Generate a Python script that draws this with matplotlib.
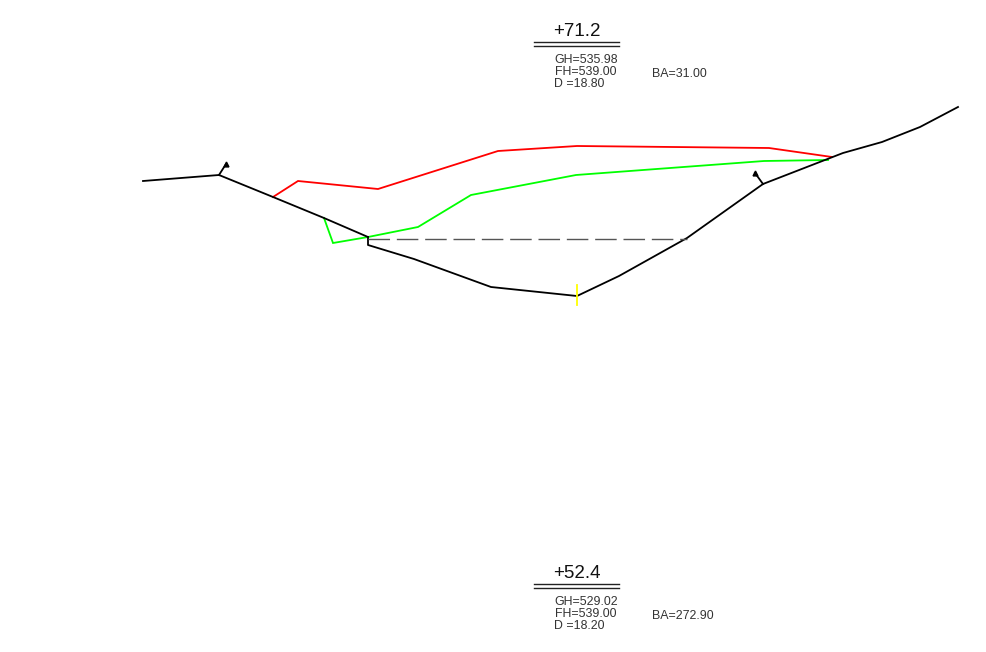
import matplotlib
matplotlib.use("Agg")
import matplotlib.pyplot as plt

plt.rcParams['font.family'] = ['Liberation Sans', 'DejaVu Sans']

W, H = 986, 652

ground_left_x = [143, 219, 273, 324, 368]
ground_left_y = [181, 175, 197, 218, 237]
ground_bed_x = [368, 368, 414, 491, 577, 619, 687, 763, 843, 882, 920, 958]
ground_bed_y = [237, 245, 259, 287, 296, 276, 238, 184, 153, 142, 127, 107]
red_x = [273, 298, 378, 498, 577, 769, 832]
red_y = [197, 181, 189, 151, 146, 148, 157]
green_x = [324, 333, 368, 418, 471, 576, 764, 828]
green_y = [218, 243, 237, 227, 195, 175, 161, 160]
water_x = [368, 687]
water_y = [239, 239]
centre_x = [577, 577]
centre_y = [285, 305]
bank_left_x = [219, 226]
bank_left_y = [175, 164]
bank_right_x = [763, 755]
bank_right_y = [184, 173]

title_top = "+71.2"
lines_top = ["GH=535.98", "FH=539.00", "D =18.80"]
ba_top = "BA=31.00"
title_bottom = "+52.4"
lines_bottom = ["GH=529.02", "FH=539.00", "D =18.20"]
ba_bottom = "BA=272.90"
block_rule_x = [534, 619]

fig = plt.figure(figsize=(W / 100, H / 100), dpi=100)
ax = fig.add_axes([0, 0, 1, 1])
ax.set_xlim(0, W)
ax.set_ylim(H, 0)
ax.axis("off")

LW = 1.3
ax.plot(red_x, red_y, color="#ff0000", lw=LW, solid_joinstyle="miter")
ax.plot(green_x, green_y, color="#00ff00", lw=LW, solid_joinstyle="miter")
ax.plot(ground_left_x, ground_left_y, color="black", lw=LW)
ax.plot(ground_bed_x, ground_bed_y, color="black", lw=LW)
ax.plot(water_x, water_y, color="#555555", lw=1.0, dashes=(15.5, 4.9))
ax.plot(centre_x, centre_y, color="#ffff00", lw=1.3)

for xs, ys in ((bank_left_x, bank_left_y), (bank_right_x, bank_right_y)):
    ax.plot(xs, ys, color="black", lw=LW)
    ax.plot(xs[1], ys[1], marker="^", color="black", ms=3.5)


def block(y0, title, lines, ba):
    ax.text(577, y0, title, fontsize=13.5, ha="center", va="baseline", color="#111111")
    ax.plot(block_rule_x, [y0 + 6] * 2, color="#222222", lw=1.0)
    ax.plot(block_rule_x, [y0 + 10] * 2, color="#222222", lw=1.0)
    for i, s in enumerate(lines):
        ax.text(554.5, y0 + 27 + i * 12, s, fontsize=8.9, ha="left", va="baseline", color="#333333")
    ax.text(652, y0 + 41, ba, fontsize=8.9, ha="left", va="baseline", color="#333333")


block(36, title_top, lines_top, ba_top)
block(578, title_bottom, lines_bottom, ba_bottom)

fig.savefig("out.png", dpi=100, facecolor="white")
